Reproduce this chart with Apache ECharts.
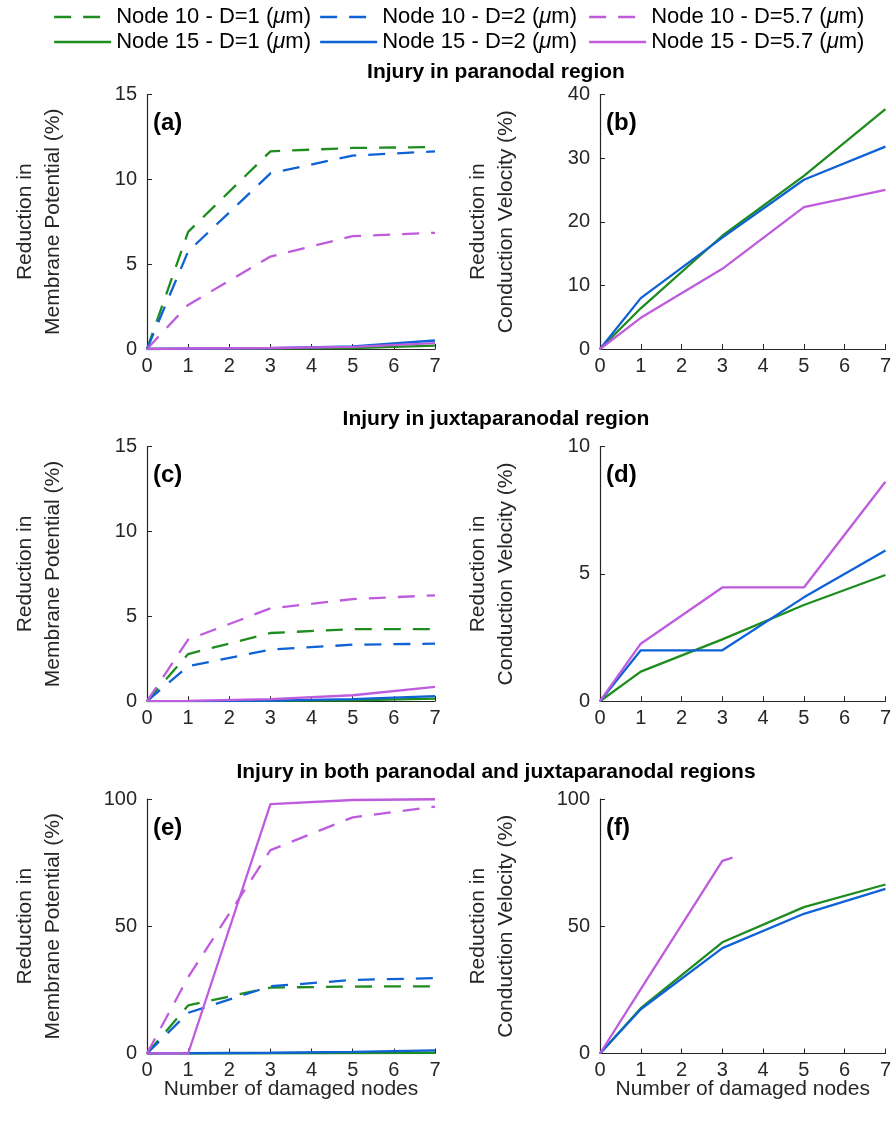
<!DOCTYPE html>
<html>
<head>
<meta charset="utf-8">
<script src="https://cdn.jsdelivr.net/npm/echarts@6/dist/echarts.min.js"></script>
<style>
  html, body { margin: 0; padding: 0; background: #fff; }
  #chart { width: 894px; height: 1122px; }
</style>
</head>
<body>
<div id="chart"></div>
<script>
// number of damaged nodes (x positions of the simulated points)
var nodes = [0, 1, 3, 5, 7];

var names = [
  'Node 10 - D=1 (μm)', 'Node 10 - D=2 (μm)', 'Node 10 - D=5.7 (μm)',
  'Node 15 - D=1 (μm)', 'Node 15 - D=2 (μm)', 'Node 15 - D=5.7 (μm)'
];
var colors = ['#1E8C1E', '#0F62D6', '#BF5CDE'];

// (a) paranodal - membrane potential
var aN10D1 = [0, 6.9, 11.65, 11.85, 11.9];
var aN10D2 = [0, 5.75, 10.35, 11.4, 11.65];
var aN10D57 = [0, 2.6, 5.45, 6.65, 6.85];
var aN15D1 = [0, 0.01, 0.02, 0.05, 0.2];
var aN15D2 = [0, 0.02, 0.05, 0.15, 0.5];
var aN15D57 = [0, 0.03, 0.06, 0.12, 0.35];

// (b) paranodal - conduction velocity
var bN15D1 = [0, 6.4, 17.8, 27.2, 37.7];
var bN15D2 = [0, 8.0, 17.5, 26.6, 31.8];
var bN15D57 = [0, 4.9, 12.6, 22.3, 25.0];

// (c) juxtaparanodal - membrane potential
var cN10D1 = [0, 2.78, 4.02, 4.25, 4.25];
var cN10D2 = [0, 2.06, 3.04, 3.33, 3.39];
var cN10D57 = [0, 3.63, 5.47, 6.02, 6.24];
var cN15D1 = [0, 0.01, 0.02, 0.05, 0.15];
var cN15D2 = [0, 0.01, 0.03, 0.12, 0.3];
var cN15D57 = [0, 0.02, 0.12, 0.35, 0.85];

// (d) juxtaparanodal - conduction velocity
var dN15D1 = [0, 1.16, 2.43, 3.78, 4.96];
var dN15D2 = [0, 2.0, 2.0, 4.08, 5.92];
var dN15D57 = [0, 2.26, 4.47, 4.47, 8.62];

// (e) both regions - membrane potential
var eN10D1 = [0, 18.9, 25.9, 26.3, 26.4];
var eN10D2 = [0, 16, 26.4, 28.9, 29.6];
var eN10D57 = [0, 30, 79.9, 92.8, 97];
var eN15D1 = [0, 0, 0.1, 0.2, 0.3];
var eN15D2 = [0, 0.1, 0.3, 0.6, 1.2];
var eN15D57 = [0, 0, 98, 99.6, 99.9];

// (f) both regions - conduction velocity
var fN15D1 = [0, 17.8, 43.7, 57.5, 66.4];
var fN15D2 = [0, 17.4, 41.4, 54.9, 64.7];
var fN15D57x = [0, 1, 3, 3.25];
var fN15D57 = [0, 25.3, 75.7, 77];

// y axis max / interval for each panel
var yMax = [15, 40, 15, 10, 100, 100];
var yStep = [5, 10, 5, 5, 50, 50];
var panelLabels = ['(a)', '(b)', '(c)', '(d)', '(e)', '(f)'];
var rowTitles = [
  'Injury in paranodal region',
  'Injury in juxtaparanodal region',
  'Injury in both paranodal and juxtaparanodal regions'
];

var colLeft = [147, 600];
var colWidth = [288, 287];
var rowTop = [94.5, 446.7, 799];
var rowHeight = 254.5;
var axisColor = '#262626';
var font = 'Liberation Sans, Arial, sans-serif';

var grids = [], xAxes = [], yAxes = [], graphics = [];
for (var i = 0; i < 6; i++) {
  var r = Math.floor(i / 2), c = i % 2;
  grids.push({ left: colLeft[c], top: rowTop[r], width: colWidth[c], height: rowHeight, containLabel: false });
  xAxes.push({
    type: 'value', gridIndex: i, min: 0, max: 7, interval: 1,
    name: r === 2 ? 'Number of damaged nodes' : '',
    nameLocation: 'middle', nameGap: 25, nameMoveOverlap: false,
    nameTextStyle: { fontSize: 21, color: axisColor, fontFamily: font },
    axisLine: { lineStyle: { color: axisColor, width: 1.2 } },
    axisTick: { inside: true, length: 5, lineStyle: { color: axisColor } },
    axisLabel: { fontSize: 20, color: axisColor, margin: 7, fontFamily: font },
    splitLine: { show: false }
  });
  yAxes.push({
    type: 'value', gridIndex: i, min: 0, max: yMax[i], interval: yStep[i],
    name: c === 0 ? 'Reduction in\nMembrane Potential (%)' : 'Reduction in\nConduction Velocity (%)',
    nameLocation: 'middle', nameGap: 80, nameRotate: 90,
    nameTextStyle: { fontSize: 21, lineHeight: 28, color: axisColor, fontFamily: font },
    axisLine: { show: true, lineStyle: { color: axisColor, width: 1.2 } },
    axisTick: { show: true, inside: true, length: 5, lineStyle: { color: axisColor } },
    axisLabel: { fontSize: 20, color: axisColor, margin: 10, fontFamily: font },
    splitLine: { show: false }
  });
  graphics.push({
    type: 'text', x: colLeft[c] + 6, y: rowTop[r] + 29,
    style: { text: panelLabels[i], font: 'bold 24px ' + font, fill: '#000', align: 'left', verticalAlign: 'middle' }
  });
}
var titleY = [72, 419, 772];
for (var r2 = 0; r2 < 3; r2++) {
  graphics.push({
    type: 'text', x: 496, y: titleY[r2],
    style: { text: rowTitles[r2], font: 'bold 21px ' + font, fill: '#000', align: 'center', verticalAlign: 'middle' }
  });
}

function line(nameIdx, panel, ys, xs) {
  var dashed = nameIdx < 3;
  var col = colors[nameIdx % 3];
  xs = xs || nodes;
  return {
    type: 'line', name: names[nameIdx], xAxisIndex: panel, yAxisIndex: panel,
    data: xs.map(function (x, k) { return [x, ys[k]]; }),
    symbol: 'none', showSymbol: false, animation: false,
    lineStyle: { color: col, width: 2.3, type: dashed ? [17, 12] : 'solid' },
    itemStyle: { color: col }
  };
}

var series = [
  line(0, 0, aN10D1), line(1, 0, aN10D2), line(2, 0, aN10D57),
  line(3, 0, aN15D1), line(4, 0, aN15D2), line(5, 0, aN15D57),
  line(3, 1, bN15D1), line(4, 1, bN15D2), line(5, 1, bN15D57),
  line(0, 2, cN10D1), line(1, 2, cN10D2), line(2, 2, cN10D57),
  line(3, 2, cN15D1), line(4, 2, cN15D2), line(5, 2, cN15D57),
  line(3, 3, dN15D1), line(4, 3, dN15D2), line(5, 3, dN15D57),
  line(0, 4, eN10D1), line(1, 4, eN10D2), line(2, 4, eN10D57),
  line(3, 4, eN15D1), line(4, 4, eN15D2), line(5, 4, eN15D57),
  line(3, 5, fN15D1), line(4, 5, fN15D2), line(5, 5, fN15D57, fN15D57x)
];

// one legend per item so the columns line up like the original
var legendLeft = [53, 319, 588];
var legendTop = [5, 30];
var legends = names.map(function (n, k) {
  return {
    data: [n], left: legendLeft[k % 3], top: legendTop[Math.floor(k / 3)],
    padding: 0, itemWidth: 57, itemHeight: 14, selectedMode: false,
    itemStyle: { opacity: 0 },
    lineStyle: { width: 2.3 },
    formatter: function (name) {
      return '{n|' + name.replace('(μm)', '(}{i|μ}{n|m)') + '}';
    },
    textStyle: {
      color: '#000', fontSize: 22, lineHeight: 24, fontFamily: font,
      rich: {
        n: { fontSize: 22, color: '#000', fontFamily: font },
        i: { fontSize: 22, color: '#000', fontStyle: 'italic', fontFamily: font }
      }
    }
  };
});

var chart = echarts.init(document.getElementById('chart'));
chart.setOption({
  backgroundColor: '#fff',
  animation: false,
  legend: legends,
  grid: grids,
  xAxis: xAxes,
  yAxis: yAxes,
  graphic: graphics,
  series: series
});
</script>
</body>
</html>
